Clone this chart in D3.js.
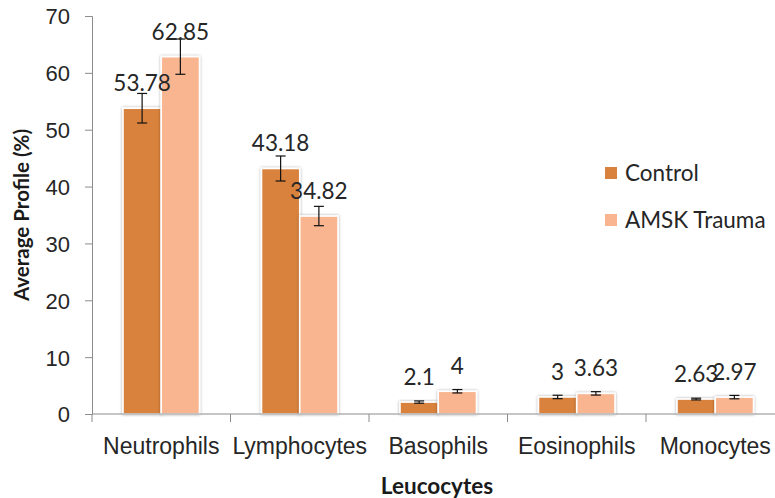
<!DOCTYPE html>
<html>
<head>
<meta charset="utf-8">
<script src="https://cdn.jsdelivr.net/npm/d3@7"></script>
<style>
  body { margin: 0; background: #fff; }
  svg { display: block; font-family: Lato, "Open Sans", sans-serif; }
  .axis path, .axis line { stroke: #8c8c8c; }
  .axis text { fill: #262626; }
</style>
</head>
<body>
<svg id="chart" width="775" height="498"></svg>
<script>
// data
const categories = ["Neutrophils", "Lymphocytes", "Basophils", "Eosinophils", "Monocytes"];
const seriesNames = ["Control", "AMSK Trauma"];
const controlValues = [53.78, 43.18, 2.1, 3, 2.63];
const traumaValues = [62.85, 34.82, 4, 3.63, 2.97];
const controlErrors = [2.6, 2.2, 0.2, 0.3, 0.15];
const traumaErrors = [3.1, 1.7, 0.3, 0.3, 0.3];
const yTicks = [0, 10, 20, 30, 40, 50, 60, 70];
const colors = ["#d9823e", "#f8b590"];

const svg = d3.select("#chart");
const margin = {left: 92, top: 16, bottom: 84};
const height = 498 - margin.top - margin.bottom;
const bandWidth = 138.5;

const rows = categories.map((c, i) => ({
    key: c,
    values: [
        {series: seriesNames[0], value: controlValues[i], err: controlErrors[i]},
        {series: seriesNames[1], value: traumaValues[i], err: traumaErrors[i]}
    ]
}));

let x0 = d3.scaleBand().domain(categories).range([0, bandWidth * categories.length]).padding(0);
let x1 = d3.scaleBand().domain(seriesNames).range([0, x0.bandwidth()]).paddingInner(0).paddingOuter(0.81);
let y = d3.scaleLinear().domain([0, 70]).range([height, 0]);
let color = d3.scaleOrdinal().domain(seriesNames).range(colors);

// soft shadow behind the bars
let filter = svg.append("defs").append("filter")
    .attr("id", "barShadow").attr("x", "-20%").attr("y", "-20%").attr("width", "140%").attr("height", "140%");
filter.append("feGaussianBlur").attr("in", "SourceAlpha").attr("stdDeviation", 1.6);
filter.append("feOffset").attr("dx", 0).attr("dy", 0).attr("result", "blur");
filter.append("feComponentTransfer").append("feFuncA").attr("type", "linear").attr("slope", 0.35);
let merge = filter.append("feMerge");
merge.append("feMergeNode");
merge.append("feMergeNode").attr("in", "SourceGraphic");

let g = svg.append("g").attr("transform", "translate(" + margin.left + "," + margin.top + ")");

// y axis
let yAxis = g.append("g")
    .attr("class", "axis axis--y")
    .call(d3.axisLeft(y).tickValues(yTicks).tickSize(7).tickPadding(15));
yAxis.selectAll("text").style("font-size", "22px").attr("dy", "0.36em");

// bars
let groups = g.selectAll(".group")
    .data(rows)
    .enter().append("g")
    .attr("class", "group")
    .attr("transform", d => "translate(" + x0(d.key) + ",0)");

groups.selectAll("rect")
    .data(d => d.values)
    .enter().append("rect")
    .attr("x", d => x1(d.series))
    .attr("y", d => y(d.value))
    .attr("width", x1.bandwidth())
    .attr("height", d => height - y(d.value))
    .attr("fill", d => color(d.series))
    .attr("stroke", "#fff")
    .attr("stroke-width", 1.6)
    .attr("filter", "url(#barShadow)");

// error bars
let err = groups.selectAll(".err")
    .data(d => d.values)
    .enter().append("g")
    .attr("class", "err")
    .attr("stroke", "#111")
    .attr("stroke-width", 1.2);
let cx = d => x1(d.series) + x1.bandwidth() / 2;
err.append("line")
    .attr("x1", cx).attr("x2", cx)
    .attr("y1", d => y(d.value + d.err)).attr("y2", d => y(d.value - d.err));
err.append("line")
    .attr("x1", d => cx(d) - 5).attr("x2", d => cx(d) + 5)
    .attr("y1", d => y(d.value + d.err)).attr("y2", d => y(d.value + d.err));
err.append("line")
    .attr("x1", d => cx(d) - 5).attr("x2", d => cx(d) + 5)
    .attr("y1", d => y(d.value - d.err)).attr("y2", d => y(d.value - d.err));

// value labels
groups.selectAll(".val")
    .data(d => d.values)
    .enter().append("text")
    .attr("class", "val")
    .attr("x", cx)
    .attr("y", d => y(d.value) - 17)
    .attr("text-anchor", "middle")
    .style("font-size", "22.5px")
    .style("fill", "#262626")
    .text(d => d.value);

// x axis
let xAxis = g.append("g")
    .attr("class", "axis axis--x")
    .attr("transform", "translate(0," + height + ")")
    .call(d3.axisBottom(x0).tickSize(0).tickPadding(24));
xAxis.select(".domain").attr("d", "M0,0H" + (bandWidth * categories.length));
xAxis.selectAll("text").style("font-size", "23px");
xAxis.selectAll(".sep")
    .data(d3.range(categories.length + 1))
    .enter().append("line")
    .attr("class", "sep")
    .attr("x1", i => i * bandWidth).attr("x2", i => i * bandWidth)
    .attr("y1", 0).attr("y2", 8);

// axis titles
svg.append("text")
    .attr("transform", "translate(29," + (margin.top + height / 2) + ") rotate(-90)")
    .attr("text-anchor", "middle")
    .style("font-size", "20.5px")
    .style("font-weight", "bold")
    .style("fill", "#1a1a1a")
    .text("Average Profile (%)");

svg.append("text")
    .attr("x", 437)
    .attr("y", 494)
    .attr("text-anchor", "middle")
    .style("font-size", "22.5px")
    .style("font-weight", "bold")
    .style("fill", "#1a1a1a")
    .text("Leucocytes");

// legend
let legend = svg.append("g").attr("transform", "translate(605,167)");
let item = legend.selectAll(".item")
    .data(seriesNames)
    .enter().append("g")
    .attr("class", "item")
    .attr("transform", (d, i) => "translate(0," + i * 47 + ")");
item.append("rect").attr("width", 12).attr("height", 12).attr("fill", d => color(d));
item.append("text")
    .attr("x", 20).attr("y", 6).attr("dy", "0.36em")
    .style("font-size", "22.5px")
    .style("fill", "#262626")
    .text(d => d);
</script>
</body>
</html>
